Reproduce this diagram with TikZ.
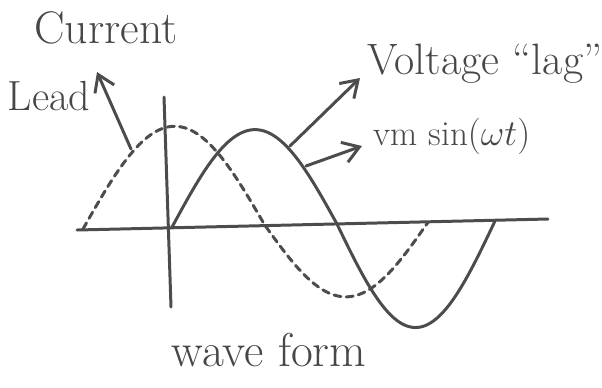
\documentclass[tikz,border=0pt]{standalone}
\usepackage{amsmath}
\usepackage{fontspec}
\usepackage{tikz}
\usetikzlibrary{arrows.meta}

\begin{document}
\begin{tikzpicture}[
    x=0.02cm, y=-0.02cm,
    ink/.style={draw=black!70, line width=1.7pt, line cap=round},
    dotted wave/.style={ink, dash pattern=on 4pt off 3pt},
    arr/.style={ink, -{Straight Barb[length=3.2mm, width=4.2mm]}},
    lbl/.style={text=black!72, font=\fontsize{#1}{#1}\selectfont, inner sep=0pt},
    lbl/.default=20
]
\useasboundingbox (0,0) rectangle (602,387);

% axes
\coordinate (xl) at (77,230);
\coordinate (xr) at (548,219);
\coordinate (yt) at (164,97);
\coordinate (yb) at (171,307);
\draw[ink] (xl) -- (xr);
\draw[ink] (yt) -- (yb);

% voltage (solid) and current (dashed)
\draw[ink] plot[domain=172:337, samples=60] (\x, {229-(\x-77)/471*9-96*sin((\x-172)/165*180)})
    -- plot[domain=337:495, samples=60] (\x, {229-(\x-77)/471*9+105*sin((\x-337)/158*180)});
\draw[dotted wave] plot[domain=83:265, samples=60] (\x, {229-(\x-83)/471*9-101*sin((\x-83)/182*180)})
    -- plot[domain=265:428, samples=60] (\x, {229-(\x-77)/471*9+73*sin((\x-265)/163*180)});

\node[lbl=26] (current) at (106,28) {Current};
\node[lbl=24] (lead) at (49,96) {Lead};
\node[lbl=25] (voltage) at (485,64) {Voltage ``lag''};
\node[lbl=20] (vm) at (452,136) {vm sin$(\omega t)$};
\node[lbl=27] (wave) at (269,350) {wave form};

\coordinate (leadtip) at (97,72);
\coordinate (leadfoot) at (131,149);
\coordinate (volttip) at (360,78);
\coordinate (voltfoot) at (290,146);
\coordinate (vmtip) at (362,146);
\coordinate (vmfoot) at (306,166);

\draw[arr] (leadfoot) -- (leadtip);
\draw[arr] (voltfoot) -- (volttip);
\draw[arr] (vmfoot) -- (vmtip);

\end{tikzpicture}
\end{document}
